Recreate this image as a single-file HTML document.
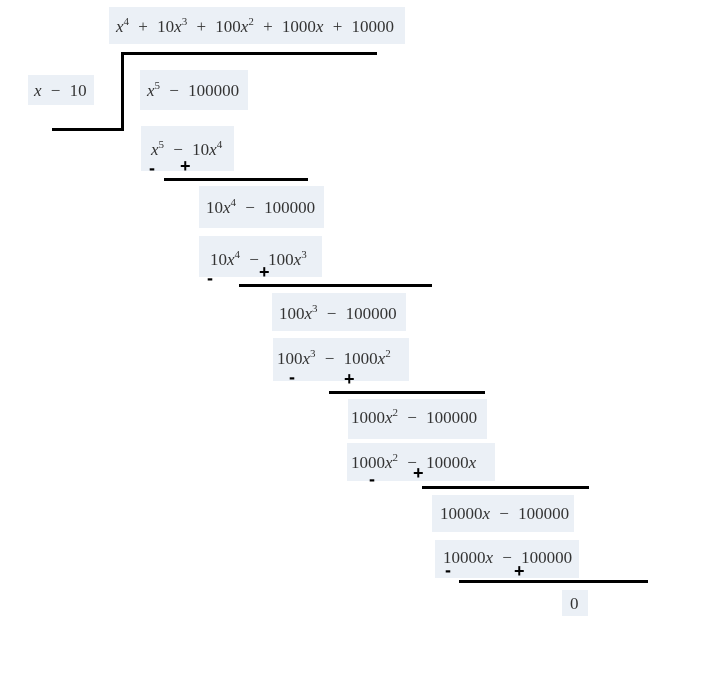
<!DOCTYPE html>
<html><head><meta charset="utf-8"><style>
html,body{margin:0;padding:0;background:#fff;}
body{width:707px;height:677px;position:relative;overflow:hidden;font-family:"Liberation Serif","DejaVu Serif",serif;color:#333;}
.b{position:absolute;background:#ebf0f6;font-size:17px;word-spacing:5px;white-space:nowrap;box-sizing:border-box;padding-left:7px;}
.b i{font-style:italic;}
.b sup{font-size:11px;vertical-align:7px;line-height:0;word-spacing:0;}
.l{position:absolute;background:#000;height:3px;}
.v{position:absolute;background:#000;width:3px;}
.s{position:absolute;font-family:"Liberation Sans",sans-serif;font-weight:bold;font-size:18px;line-height:18px;color:#000;}
</style></head><body>
<div class="b" style="left:109px;top:7px;width:296px;height:37px;line-height:40px;"><i>x</i><sup>4</sup> + 10<i>x</i><sup>3</sup> + 100<i>x</i><sup>2</sup> + 1000<i>x</i> + 10000</div>
<div class="l" style="left:121px;top:52px;width:256px;"></div>
<div class="v" style="left:121px;top:52px;height:79px;"></div>
<div class="l" style="left:52px;top:128px;width:72px;"></div>
<div class="b" style="left:28px;top:75px;width:66px;height:30px;line-height:31px;padding-left:6px;"><i>x</i> − 10</div>
<div class="b" style="left:140px;top:70px;width:108px;height:40px;line-height:42px;"><i>x</i><sup>5</sup> − 100000</div>

<div class="b" style="left:141px;top:126px;width:93px;height:45px;line-height:48px;padding-left:10px;"><i>x</i><sup>5</sup> − 10<i>x</i><sup>4</sup></div>
<div class="s" style="left:149px;top:159px;">-</div>
<div class="s" style="left:180px;top:157px;">+</div>
<div class="l" style="left:164px;top:178px;width:144px;"></div>

<div class="b" style="left:199px;top:186px;width:125px;height:42px;line-height:44px;">10<i>x</i><sup>4</sup> − 100000</div>
<div class="b" style="left:199px;top:236px;width:123px;height:41px;line-height:48px;padding-left:11px;">10<i>x</i><sup>4</sup> − 100<i>x</i><sup>3</sup></div>
<div class="s" style="left:207px;top:269px;">-</div>
<div class="s" style="left:259px;top:263px;">+</div>
<div class="l" style="left:239px;top:284px;width:193px;"></div>

<div class="b" style="left:272px;top:293px;width:134px;height:38px;line-height:41px;">100<i>x</i><sup>3</sup> − 100000</div>
<div class="b" style="left:273px;top:338px;width:136px;height:43px;line-height:42px;padding-left:4px;">100<i>x</i><sup>3</sup> − 1000<i>x</i><sup>2</sup></div>
<div class="s" style="left:289px;top:368px;">-</div>
<div class="s" style="left:344px;top:370px;">+</div>
<div class="l" style="left:329px;top:391px;width:156px;"></div>

<div class="b" style="left:348px;top:399px;width:139px;height:40px;line-height:38px;padding-left:3px;">1000<i>x</i><sup>2</sup> − 100000</div>
<div class="b" style="left:347px;top:443px;width:148px;height:38px;line-height:40px;padding-left:4px;">1000<i>x</i><sup>2</sup> − 10000<i>x</i></div>
<div class="s" style="left:369px;top:470px;">-</div>
<div class="s" style="left:413px;top:464px;">+</div>
<div class="l" style="left:422px;top:486px;width:167px;"></div>

<div class="b" style="left:432px;top:495px;width:142px;height:37px;line-height:38px;padding-left:8px;">10000<i>x</i> − 100000</div>
<div class="b" style="left:435px;top:540px;width:144px;height:38px;line-height:36px;padding-left:8px;">10000<i>x</i> − 100000</div>
<div class="s" style="left:445px;top:561px;">-</div>
<div class="s" style="left:514px;top:562px;">+</div>
<div class="l" style="left:459px;top:580px;width:189px;"></div>

<div class="b" style="left:562px;top:590px;width:26px;height:26px;line-height:27px;padding-left:8px;">0</div>
</body></html>
